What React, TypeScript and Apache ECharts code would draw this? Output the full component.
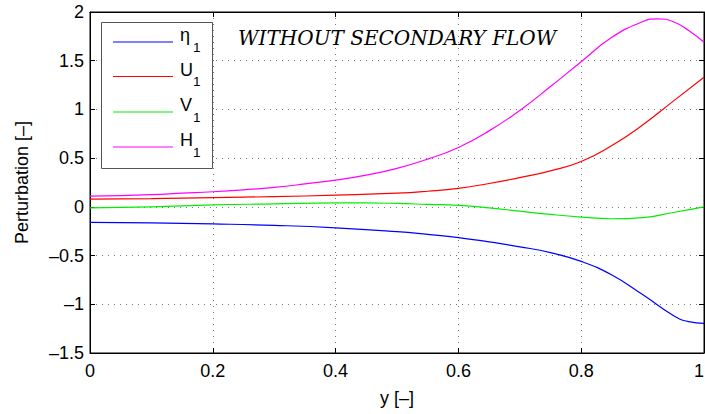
import React, { useEffect, useRef } from "react";
import * as echarts from "echarts";

const xEta = [0, 0.1, 0.2, 0.3, 0.4, 0.5, 0.55, 0.6, 0.65, 0.7, 0.75, 0.8, 0.85, 0.9, 0.95, 0.975, 1];
const eta1 = [-0.16, -0.165, -0.175, -0.19, -0.215, -0.255, -0.283, -0.315, -0.36, -0.41, -0.47, -0.56, -0.7, -0.9, -1.115, -1.178, -1.195];

const xU = [0, 0.1, 0.2, 0.3, 0.4, 0.5, 0.55, 0.6, 0.65, 0.7, 0.75, 0.8, 0.85, 0.9, 0.95, 1];
const u1 = [0.08, 0.085, 0.095, 0.105, 0.12, 0.14, 0.16, 0.19, 0.24, 0.3, 0.37, 0.466, 0.63, 0.84, 1.085, 1.33];

const xV = [0, 0.1, 0.2, 0.3, 0.4, 0.45, 0.5, 0.55, 0.6, 0.65, 0.7, 0.75, 0.8, 0.85, 0.9, 0.95, 1];
const v1 = [-0.01, 0.0, 0.02, 0.03, 0.04, 0.04, 0.035, 0.025, 0.015, -0.01, -0.044, -0.078, -0.105, -0.122, -0.11, -0.058, 0.0];

const xH = [0, 0.05, 0.1, 0.15, 0.2, 0.25, 0.3, 0.35, 0.4, 0.45, 0.5, 0.55, 0.6, 0.65, 0.7, 0.75, 0.8, 0.85, 0.9, 0.925, 0.95, 0.975, 1];
const h1 = [0.11, 0.115, 0.125, 0.14, 0.155, 0.175, 0.2, 0.235, 0.275, 0.325, 0.395, 0.49, 0.61, 0.78, 0.99, 1.235, 1.49, 1.74, 1.9, 1.93, 1.9, 1.81, 1.69];

const seriesNames = ["η", "U", "V", "H"];
const seriesSub = ["1", "1", "1", "1"];
const seriesColors = ["#0000ff", "#ff0000", "#00ee00", "#ff00ff"];
const titleText = "WITHOUT SECONDARY FLOW";
const xLabel = "y [–]";
const yLabel = "Perturbation [–]";

const fmt = (v: number) => String(v).replace("-", "–");
const zip = (xs: number[], ys: number[]) => xs.map((x, i) => [x, ys[i]]);

export default function App() {
  const ref = useRef<HTMLDivElement>(null);
  useEffect(() => {
    if (!ref.current) return;
    const chart = echarts.init(ref.current, null, { renderer: "svg" });
    const font = "Liberation Sans";
    const gridLine = { show: true, lineStyle: { color: "#777", type: [1, 5] as any, width: 1 } };
    const data = [zip(xEta, eta1), zip(xU, u1), zip(xV, v1), zip(xH, h1)];
    const boxAxis = {
      axisLine: { show: true, onZero: false, lineStyle: { color: "#000" } },
      axisTick: { show: true, inside: true, length: 5, lineStyle: { color: "#000" } },
    };

    // legend drawn as graphic (box, sample lines, names with subscripts)
    const rowY = [42, 76.5, 112, 147];
    const legendEls: any[] = [
      {
        type: "rect",
        shape: { x: 101.5, y: 22.5, width: 111, height: 146 },
        style: { fill: "#fff", stroke: "#555", lineWidth: 1 },
        z: 10,
      },
    ];
    seriesNames.forEach((n, i) => {
      const ly = rowY[i];
      legendEls.push({
        type: "line",
        shape: { x1: 113, y1: ly, x2: 173, y2: ly },
        style: { stroke: seriesColors[i], lineWidth: 1.2 },
        z: 11,
      });
      legendEls.push({
        type: "text",
        x: 180,
        y: ly - 7,
        style: { text: n, fontFamily: font, fontSize: 18, fill: "#000", verticalAlign: "middle", align: "left" },
        z: 11,
      });
      legendEls.push({
        type: "text",
        x: 193,
        y: ly + 5,
        style: { text: seriesSub[i], fontFamily: font, fontSize: 13.5, fill: "#000", verticalAlign: "middle", align: "left" },
        z: 11,
      });
    });

    chart.setOption({
      animation: false,
      backgroundColor: "#fff",
      grid: { left: 90, right: 1, top: 12, bottom: 61, show: true, borderColor: "#000", borderWidth: 1, outerBoundsMode: "none", containLabel: false },
      title: {
        text: titleText,
        left: 238,
        top: 28,
        padding: 0,
        textStyle: { fontFamily: "DejaVu Serif", fontStyle: "italic", fontWeight: "normal", fontSize: 20, color: "#000" },
      },
      graphic: legendEls,
      xAxis: [
        {
          type: "value", min: 0, max: 1, interval: 0.2,
          name: xLabel, nameLocation: "middle", nameGap: 36,
          nameTextStyle: { fontFamily: font, fontSize: 18, color: "#000" },
          ...boxAxis,
          axisLabel: { fontFamily: font, fontSize: 18, color: "#000", margin: 9, formatter: fmt, alignMaxLabel: "right" },
          splitLine: gridLine,
        },
        {
          type: "value", min: 0, max: 1, interval: 0.2, position: "top",
          ...boxAxis,
          axisLabel: { show: false },
          splitLine: { show: false },
        },
      ],
      yAxis: [
        {
          type: "value", min: -1.5, max: 2, interval: 0.5,
          name: yLabel, nameLocation: "middle", nameGap: 59,
          nameTextStyle: { fontFamily: font, fontSize: 18, color: "#000" },
          ...boxAxis,
          axisLabel: { fontFamily: font, fontSize: 18, color: "#000", margin: 6, formatter: fmt },
          splitLine: gridLine,
        },
        {
          type: "value", min: -1.5, max: 2, interval: 0.5, position: "right",
          ...boxAxis,
          axisLabel: { show: false },
          splitLine: { show: false },
        },
      ],
      series: seriesNames.map((n, i) => ({
        name: n + seriesSub[i],
        type: "line",
        data: data[i],
        smooth: 0.5,
        showSymbol: false,
        symbol: "none",
        color: seriesColors[i],
        lineStyle: { color: seriesColors[i], width: 1.2 },
        z: 3,
      })),
    });
    return () => chart.dispose();
  }, []);
  return <div ref={ref} style={{ width: 705, height: 414, position: "absolute", left: 0, top: 0 }} />;
}
